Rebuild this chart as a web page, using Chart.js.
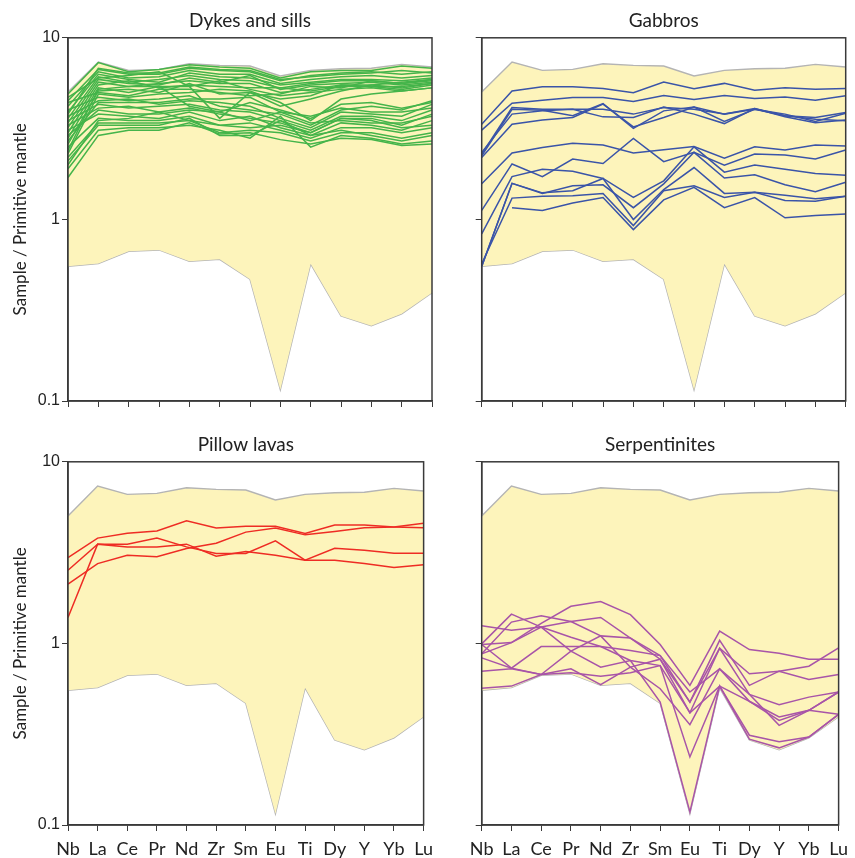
<!DOCTYPE html>
<html>
<head>
<meta charset="utf-8">
<script src="https://cdn.jsdelivr.net/npm/chart.js@4"></script>
<style>
  body { margin: 0; background: #fff; }
  #wrap { position: relative; width: 855px; height: 858px; }
  canvas { position: absolute; }
</style>
</head>
<body>
<div id="wrap">
  <canvas id="c1" width="440" height="420" style="left:0;top:0"></canvas>
  <canvas id="c2" width="435" height="420" style="left:420px;top:0"></canvas>
  <canvas id="c3" width="440" height="438" style="left:0;top:420px"></canvas>
  <canvas id="c4" width="435" height="438" style="left:420px;top:420px"></canvas>
</div>
<script>
const elements = ['Nb','La','Ce','Pr','Nd','Zr','Sm','Eu','Ti','Dy','Y','Yb','Lu'];
const yTicks = [0.1, 1, 10];

// envelope of all samples (grey outline, yellow fill)
const envelopeUpper = [5.03, 7.35, 6.62, 6.7, 7.2, 7.05, 6.99, 6.16, 6.62, 6.76, 6.8, 7.14, 6.9];
const envelopeLower = [0.552, 0.571, 0.667, 0.679, 0.588, 0.603, 0.468, 0.1155, 0.569, 0.294, 0.26, 0.302, 0.395];

const dykes = [
  [4.9, 7.3, 6.5, 6.7, 7.1, 6.9, 6.8, 6.0, 6.5, 6.6, 6.6, 7.0, 6.8],
  [4.5, 6.7, 6.3, 6.3, 6.8, 6.6, 6.5, 5.8, 6.2, 6.4, 6.5, 6.3, 6.5],
  [4.2, 6.5, 6.0, 6.1, 6.6, 6.3, 6.3, 5.6, 5.9, 6.1, 6.2, 6.0, 6.2],
  [3.9, 6.3, 5.9, 5.7, 6.4, 6.1, 6.0, 5.5, 5.7, 5.9, 5.9, 5.8, 6.0],
  [3.6, 6.1, 5.7, 5.9, 6.2, 5.9, 5.8, 5.3, 5.6, 5.8, 5.8, 5.6, 5.8],
  [3.4, 5.9, 5.6, 5.5, 6.0, 5.7, 6.2, 5.2, 5.5, 5.6, 5.7, 5.5, 5.7],
  [3.2, 5.7, 5.4, 5.6, 5.8, 5.6, 5.6, 5.0, 5.2, 5.5, 5.5, 5.3, 5.6],
  [3.0, 5.5, 5.8, 5.3, 5.5, 5.4, 5.3, 5.3, 5.1, 5.4, 5.4, 5.2, 5.5],
  [2.8, 5.3, 5.0, 5.4, 5.4, 5.8, 5.2, 4.8, 5.0, 5.2, 5.3, 5.1, 5.3],
  [2.6, 5.1, 5.2, 5.0, 5.6, 4.9, 5.0, 4.6, 4.8, 5.5, 5.4, 5.4, 5.6],
  [4.7, 6.0, 6.2, 6.5, 5.4, 3.6, 5.0, 4.2, 4.6, 5.1, 5.5, 5.7, 5.9],
  [2.3, 4.9, 4.7, 4.9, 5.0, 5.2, 5.1, 4.4, 3.5, 4.6, 4.9, 5.1, 5.3],
  [4.0, 4.7, 4.5, 4.6, 4.8, 4.2, 4.0, 3.8, 3.3, 4.0, 4.2, 4.0, 4.5],
  [3.7, 4.5, 4.6, 4.3, 4.5, 4.4, 4.2, 3.6, 3.2, 3.9, 3.8, 3.7, 4.3],
  [3.5, 4.3, 4.1, 4.2, 4.3, 4.0, 3.9, 3.5, 3.1, 3.7, 3.7, 3.5, 4.0],
  [3.3, 4.1, 4.2, 3.9, 4.1, 3.8, 3.6, 3.4, 3.0, 3.6, 3.6, 3.3, 3.8],
  [2.9, 4.0, 3.8, 3.8, 4.0, 3.9, 3.5, 3.9, 3.4, 3.5, 3.4, 3.4, 3.7],
  [3.1, 3.8, 3.7, 3.6, 3.9, 3.5, 3.7, 3.2, 2.9, 3.4, 3.3, 3.1, 3.5],
  [2.5, 3.6, 3.5, 3.5, 3.7, 3.3, 3.4, 3.1, 2.8, 3.2, 3.2, 3.0, 3.2],
  [2.2, 3.4, 3.4, 3.4, 3.5, 3.0, 3.1, 3.0, 2.7, 3.0, 3.0, 2.8, 3.0],
  [2.1, 3.3, 3.3, 3.3, 3.6, 2.9, 2.9, 3.5, 2.9, 3.1, 2.9, 2.7, 2.9],
  [1.9, 3.1, 3.2, 3.2, 3.3, 3.1, 2.8, 3.7, 2.5, 2.9, 2.8, 2.6, 2.7],
  [1.7, 2.9, 3.1, 3.1, 3.4, 2.95, 3.0, 2.75, 2.6, 2.8, 2.75, 2.55, 2.6],
  [2.0, 3.5, 3.6, 3.9, 3.5, 3.3, 3.2, 3.3, 3.0, 3.6, 3.5, 3.2, 3.3],
  [2.4, 5.2, 5.4, 5.4, 4.2, 3.9, 4.4, 4.0, 3.6, 4.3, 4.4, 4.1, 4.4],
  [3.8, 6.8, 6.4, 6.4, 6.9, 6.7, 6.6, 5.9, 6.1, 6.3, 6.4, 6.6, 6.4],
  [4.4, 5.0, 4.8, 5.2, 5.2, 5.0, 4.8, 4.9, 5.4, 5.3, 5.8, 5.6, 5.9],
  [2.7, 4.4, 4.4, 4.4, 4.6, 4.6, 4.7, 3.9, 3.7, 4.1, 3.9, 3.9, 4.1]
];

const gabbros = [
  [3.34, 5.10, 5.38, 5.38, 5.25, 4.99, 5.71, 5.25, 5.61, 5.14, 5.31, 5.21, 5.25],
  [3.10, 4.36, 4.53, 4.69, 4.69, 4.46, 4.81, 4.57, 4.81, 4.63, 4.72, 4.53, 4.79],
  [2.29, 4.13, 4.04, 4.04, 4.04, 3.80, 4.13, 4.04, 3.80, 4.08, 3.72, 3.64, 3.88],
  [2.24, 4.04, 3.99, 3.72, 4.34, 3.17, 3.96, 4.16, 3.46, 4.04, 3.80, 3.46, 3.84],
  [2.34, 3.80, 3.96, 4.04, 3.67, 3.64, 4.16, 3.80, 3.37, 4.08, 3.67, 3.41, 3.53],
  [2.19, 3.34, 3.53, 3.64, 4.31, 3.23, 3.64, 4.16, 3.80, 4.04, 3.72, 3.56, 3.49],
  [1.57, 2.32, 2.49, 2.63, 2.57, 2.32, 2.42, 2.52, 2.17, 2.51, 2.41, 2.57, 2.54],
  [1.12, 2.02, 1.72, 2.15, 2.03, 2.79, 2.08, 2.34, 1.99, 2.29, 2.26, 2.15, 2.41],
  [0.832, 1.72, 1.89, 1.84, 1.68, 1.32, 1.63, 2.51, 1.82, 1.99, 1.89, 1.79, 1.75],
  [0.551, 1.58, 1.39, 1.53, 1.55, 1.16, 1.57, 2.34, 1.69, 1.76, 1.55, 1.42, 1.60],
  [0.551, 1.58, 1.40, 1.44, 1.68, 0.998, 1.46, 1.93, 1.39, 1.41, 1.36, 1.30, 1.34],
  [0.570, 1.31, 1.34, 1.35, 1.39, 0.925, 1.44, 1.53, 1.32, 1.41, 1.27, 1.26, 1.34],
  [null, 1.16, 1.12, 1.23, 1.32, 0.879, 1.28, 1.50, 1.16, 1.32, 1.02, 1.05, 1.07]
];

const pillowLavas = [
  [2.97, 3.80, 4.04, 4.16, 4.74, 4.32, 4.42, 4.42, 4.03, 4.49, 4.49, 4.38, 4.34],
  [2.53, 3.52, 3.52, 3.80, 3.40, 3.13, 3.13, 3.67, 2.87, 3.34, 3.26, 3.14, 3.14],
  [2.12, 2.75, 3.06, 3.00, 3.33, 3.56, 4.10, 4.32, 3.96, 4.13, 4.34, 4.38, 4.59],
  [1.39, 3.52, 3.39, 3.39, 3.52, 3.02, 3.21, 3.06, 2.87, 2.87, 2.75, 2.62, 2.71]
];

const serpentinites = [
  [0.986, 1.01, 1.29, 1.60, 1.70, 1.44, 0.986, 0.587, 1.17, 0.925, 0.883, 0.818, 0.818],
  [1.25, 1.18, 1.23, 1.32, 1.39, 1.07, 0.857, 0.475, 1.04, 0.587, 0.703, 0.749, 0.944],
  [0.994, 1.45, 1.23, 1.08, 0.961, 0.805, 0.755, 0.415, 0.940, 0.680, 0.703, 0.633, 0.674],
  [0.876, 1.31, 1.42, 1.32, 1.10, 0.740, 0.563, 0.357, 0.724, 0.524, 0.459, 0.506, 0.540],
  [0.832, 0.731, 0.961, 0.961, 0.961, 0.914, 0.857, 0.540, 0.724, 0.480, 0.394, 0.428, 0.540],
  [0.703, 0.724, 0.674, 0.724, 0.592, 0.740, 0.818, 0.415, 0.582, 0.480, 0.377, 0.428, 0.407],
  [0.567, 0.582, 0.674, 0.689, 0.660, 0.689, 0.755, 0.237, 0.582, 0.312, 0.287, 0.305, 0.407],
  [0.986, 0.731, 0.674, 0.906, 0.740, 0.805, 0.475, 0.118, 0.582, 0.297, 0.266, 0.305, 0.407],
  [0.876, 1.01, 1.23, 0.906, 1.10, 1.07, 0.818, 0.475, 0.940, 0.524, 0.354, 0.428, 0.540]
];

const axisColor = '#3a3a3a';

// box around the plot area (top and right sides too)
const frame = {
  id: 'frame',
  afterDraw(chart) {
    const a = chart.chartArea, ctx = chart.ctx;
    ctx.save();
    ctx.strokeStyle = axisColor;
    ctx.lineWidth = 1.5;
    ctx.strokeRect(a.left, a.top, a.right - a.left, a.bottom - a.top);
    ctx.restore();
  }
};

function makePanel(id, title, samples, color, o) {
  const datasets = samples.map(s => ({
    data: s, borderColor: color, borderWidth: 1.5, pointRadius: 0,
    fill: false, order: 0, spanGaps: false
  }));
  datasets.push({
    data: envelopeUpper, borderColor: '#b4b4b4', borderWidth: 1.4, pointRadius: 0,
    backgroundColor: 'rgb(253,244,187)', fill: '+1', order: 1
  });
  datasets.push({
    data: envelopeLower, borderColor: '#b4b4b4', borderWidth: 1.4, pointRadius: 0,
    fill: false, order: 1
  });

  new Chart(document.getElementById(id), {
    type: 'line',
    data: { labels: elements, datasets: datasets },
    options: {
      responsive: false,
      animation: false,
      layout: { padding: { left: 0, right: o.padRight, top: 0, bottom: 0 } },
      plugins: {
        legend: { display: false },
        tooltip: { enabled: false },
        title: {
          display: true, text: title, fullSize: false, color: '#222',
          font: { family: 'Lato', size: 19, weight: 'normal' },
          padding: { top: o.titleTop, bottom: o.titleBottom }
        }
      },
      scales: {
        x: {
          type: 'category', offset: false,
          grid: { display: true, drawOnChartArea: false, drawTicks: true, tickLength: 6, tickColor: axisColor, offset: false },
          border: { display: true, color: axisColor, width: 1.5 },
          ticks: {
            display: o.xLabels, autoSkip: false, maxRotation: 0, padding: 7, color: '#222',
            font: { family: 'Lato', size: 18 }
          },
          afterFit(s) { s.height = o.xHeight; }
        },
        y: {
          type: 'logarithmic', min: 0.1, max: 10,
          afterBuildTicks(s) { s.ticks = yTicks.map(v => ({ value: v })); },
          grid: { display: true, drawOnChartArea: false, drawTicks: true, tickLength: 6, tickColor: axisColor },
          border: { display: true, color: axisColor, width: 1.5 },
          ticks: {
            display: o.yLabels, padding: 2, color: '#222',
            font: { family: 'Liberation Sans', size: 16 },
            callback: v => String(v)
          },
          title: {
            display: o.yLabels, text: 'Sample / Primitive mantle', color: '#222',
            font: { family: 'Lato', size: 17 },
            padding: { top: 10, bottom: 0 }
          },
          afterFit(s) { s.width = o.yWidth; }
        }
      }
    },
    plugins: [frame]
  });
}

makePanel('c1', 'Dykes and sills', dykes, 'rgb(68,180,74)',
  { padRight: 8, yWidth: 68, xHeight: 19, xLabels: false, yLabels: true, titleTop: 9, titleBottom: 6 });
makePanel('c2', 'Gabbros', gabbros, 'rgb(58,84,168)',
  { padRight: 9.3, yWidth: 61.7, xHeight: 19, xLabels: false, yLabels: false, titleTop: 9, titleBottom: 6 });
makePanel('c3', 'Pillow lavas', pillowLavas, 'rgb(238,44,36)',
  { padRight: 8, yWidth: 68, xHeight: 33, xLabels: true, yLabels: true, titleTop: 13, titleBottom: 6 });
makePanel('c4', 'Serpentinites', serpentinites, 'rgb(168,84,168)',
  { padRight: 9.3, yWidth: 61.7, xHeight: 33, xLabels: true, yLabels: false, titleTop: 13, titleBottom: 6 });
</script>
</body>
</html>
